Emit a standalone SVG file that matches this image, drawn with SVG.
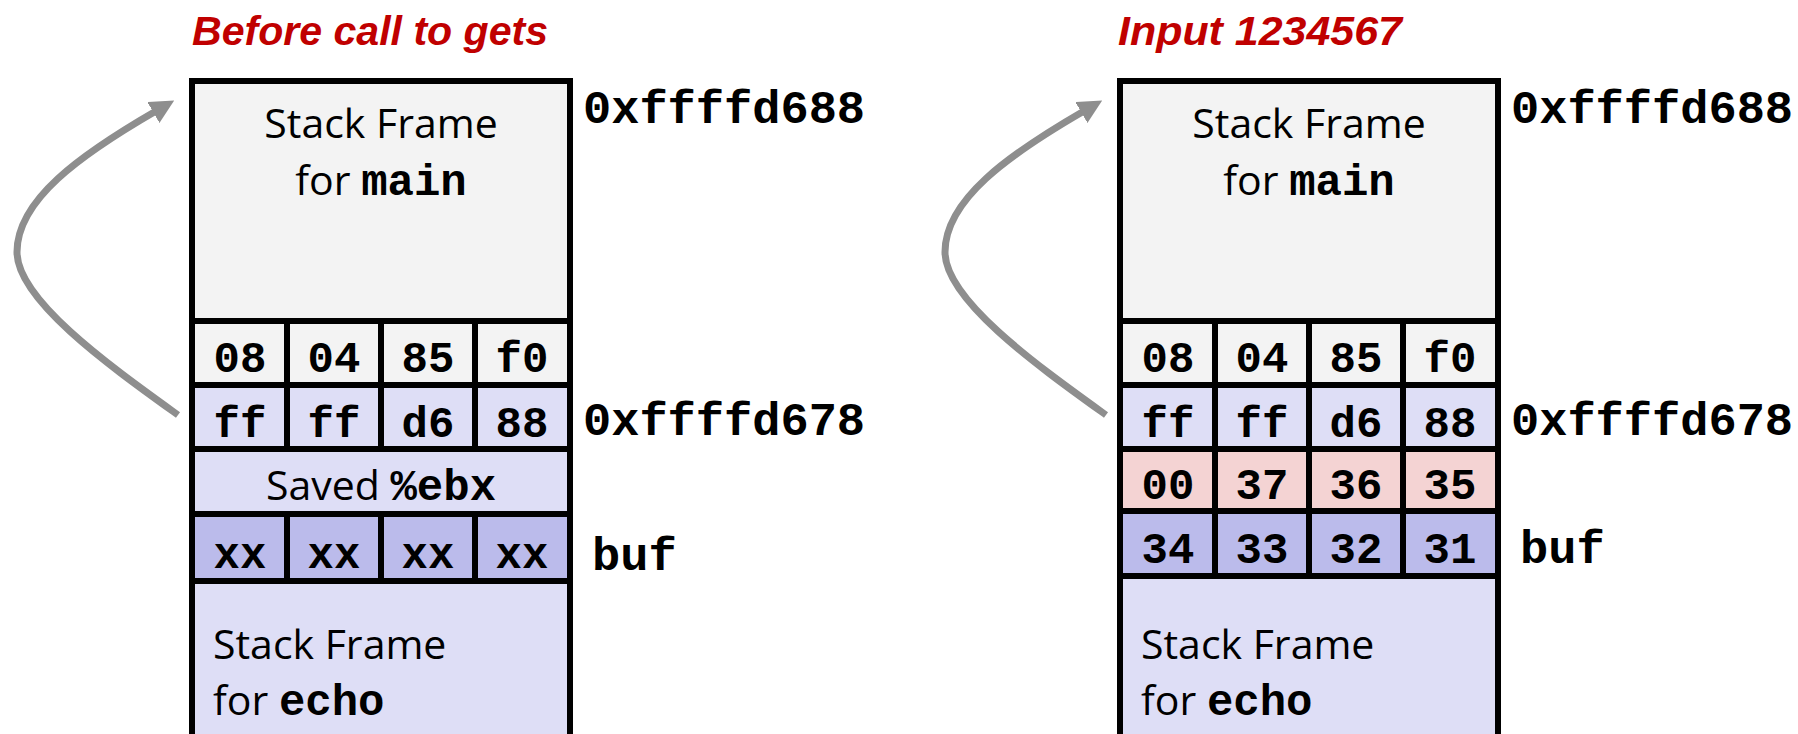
<svg xmlns="http://www.w3.org/2000/svg" width="1798" height="734" viewBox="0 0 1798 734">
<defs>
<style>
.title{font-family:"Liberation Sans",Arial,sans-serif;font-weight:bold;font-style:italic;font-size:41px;fill:#c00000}
.sans{font-family:"Open Sans","Liberation Sans",sans-serif;font-size:41px;fill:#000}
.mono{font-family:"Liberation Mono","Courier New",monospace;font-weight:bold;font-size:44px;fill:#000}
.addr{font-family:"Liberation Mono","Courier New",monospace;font-weight:bold;font-size:47px;fill:#000}
.ln{stroke:#000;stroke-width:6;fill:none}
.gray{fill:#f3f3f3}
.lav{fill:#dedef6}
.peri{fill:#bbbbeb}
.pink{fill:#f4d3d3}
.arrow{stroke:#8e8e8e;stroke-width:7;fill:none;marker-end:url(#ah)}
</style>
<marker id="ah" markerUnits="userSpaceOnUse" viewBox="0 0 24 24" refX="3" refY="12" markerWidth="24" markerHeight="24" orient="auto">
<path d="M0,0 L24,12 L0,24 z" fill="#8e8e8e"/>
</marker>
</defs>
<rect width="1798" height="734" fill="#fff"/>

<g id="left-diagram">
<text id="title-left" class="title" x="192" y="45" textLength="356" lengthAdjust="spacingAndGlyphs">Before call to gets</text>
<g id="L-main-frame">
<rect class="gray" x="192" y="81" width="378" height="240"/>
<text class="sans" x="381" y="138" text-anchor="middle">Stack Frame</text>
<text class="sans" x="381" y="195" text-anchor="middle">for <tspan class="mono">main</tspan></text>
</g>
<g id="L-ret-hi">
<rect class="gray" x="192" y="321" width="378" height="64"/>
<text class="mono" x="240" y="372" text-anchor="middle">08</text>
<text class="mono" x="334" y="372" text-anchor="middle">04</text>
<text class="mono" x="428" y="372" text-anchor="middle">85</text>
<text class="mono" x="522" y="372" text-anchor="middle">f0</text>
</g>
<g id="L-ebp">
<rect class="lav" x="192" y="385" width="378" height="64"/>
<text class="mono" x="240" y="437" text-anchor="middle">ff</text>
<text class="mono" x="334" y="437" text-anchor="middle">ff</text>
<text class="mono" x="428" y="437" text-anchor="middle">d6</text>
<text class="mono" x="522" y="437" text-anchor="middle">88</text>
</g>
<g id="L-saved-ebx">
<rect class="lav" x="192" y="449" width="378" height="65"/>
<text class="sans" x="381" y="500" text-anchor="middle">Saved <tspan class="mono">%ebx</tspan></text>
</g>
<g id="L-buf">
<rect class="peri" x="192" y="514" width="378" height="67"/>
<text class="mono" x="240" y="568" text-anchor="middle">xx</text>
<text class="mono" x="334" y="568" text-anchor="middle">xx</text>
<text class="mono" x="428" y="568" text-anchor="middle">xx</text>
<text class="mono" x="522" y="568" text-anchor="middle">xx</text>
</g>
<g id="L-echo-frame">
<rect class="lav" x="192" y="581" width="378" height="170"/>
<text class="sans" x="213" y="659">Stack Frame</text>
<text class="sans" x="213" y="715">for <tspan class="mono">echo</tspan></text>
</g>
<g id="L-grid">
<path class="ln" d="M192,760 V81 H570 V760"/>
<path class="ln" d="M192,321 H570 M192,385 H570 M192,449 H570 M192,581 H570"/>
<path class="ln" stroke-width="9" d="M192,514 H570"/>
<path class="ln" stroke-width="5" d="M287,321 V449 M381,321 V449 M475,321 V449 M287,514 V581 M381,514 V581 M475,514 V581"/>
</g>
<g id="L-labels">
<text class="addr" x="583" y="123">0xffffd688</text>
<text class="addr" x="583" y="435">0xffffd678</text>
<text class="addr" x="592" y="570">buf</text>
</g>
</g>

<g id="right-diagram">
<text id="title-right" class="title" x="1118" y="45" textLength="284" lengthAdjust="spacingAndGlyphs">Input 1234567</text>
<g id="R-main-frame">
<rect class="gray" x="1120" y="81" width="378" height="240"/>
<text class="sans" x="1309" y="138" text-anchor="middle">Stack Frame</text>
<text class="sans" x="1309" y="195" text-anchor="middle">for <tspan class="mono">main</tspan></text>
</g>
<g id="R-ret-hi">
<rect class="gray" x="1120" y="321" width="378" height="64"/>
<text class="mono" x="1168" y="372" text-anchor="middle">08</text>
<text class="mono" x="1262" y="372" text-anchor="middle">04</text>
<text class="mono" x="1356" y="372" text-anchor="middle">85</text>
<text class="mono" x="1450" y="372" text-anchor="middle">f0</text>
</g>
<g id="R-ebp">
<rect class="lav" x="1120" y="385" width="378" height="64"/>
<text class="mono" x="1168" y="437" text-anchor="middle">ff</text>
<text class="mono" x="1262" y="437" text-anchor="middle">ff</text>
<text class="mono" x="1356" y="437" text-anchor="middle">d6</text>
<text class="mono" x="1450" y="437" text-anchor="middle">88</text>
</g>
<g id="R-overwritten">
<rect class="pink" x="1120" y="449" width="378" height="62"/>
<text class="mono" x="1168" y="499" text-anchor="middle">00</text>
<text class="mono" x="1262" y="499" text-anchor="middle">37</text>
<text class="mono" x="1356" y="499" text-anchor="middle">36</text>
<text class="mono" x="1450" y="499" text-anchor="middle">35</text>
</g>
<g id="R-buf">
<rect class="peri" x="1120" y="511" width="378" height="65"/>
<text class="mono" x="1168" y="563" text-anchor="middle">34</text>
<text class="mono" x="1262" y="563" text-anchor="middle">33</text>
<text class="mono" x="1356" y="563" text-anchor="middle">32</text>
<text class="mono" x="1450" y="563" text-anchor="middle">31</text>
</g>
<g id="R-echo-frame">
<rect class="lav" x="1120" y="576" width="378" height="175"/>
<text class="sans" x="1141" y="659">Stack Frame</text>
<text class="sans" x="1141" y="715">for <tspan class="mono">echo</tspan></text>
</g>
<g id="R-grid">
<path class="ln" d="M1120,760 V81 H1498 V760"/>
<path class="ln" d="M1120,321 H1498 M1120,385 H1498 M1120,449 H1498 M1120,576 H1498"/>
<path class="ln" stroke-width="8" d="M1120,511 H1498"/>
<path class="ln" stroke-width="5" d="M1215,321 V576 M1309,321 V576 M1403,321 V576"/>
</g>
<g id="R-labels">
<text class="addr" x="1511" y="123">0xffffd688</text>
<text class="addr" x="1511" y="435">0xffffd678</text>
<text class="addr" x="1520" y="563">buf</text>
</g>
</g>

<g id="connectors">
<path class="arrow" d="M178,415 C110,366 17,300 17,252 C17,200 80,155 156,111"/>
<path class="arrow" d="M1106,415 C1038,366 945,300 945,252 C945,200 1008,155 1084,111"/>
</g>
</svg>
